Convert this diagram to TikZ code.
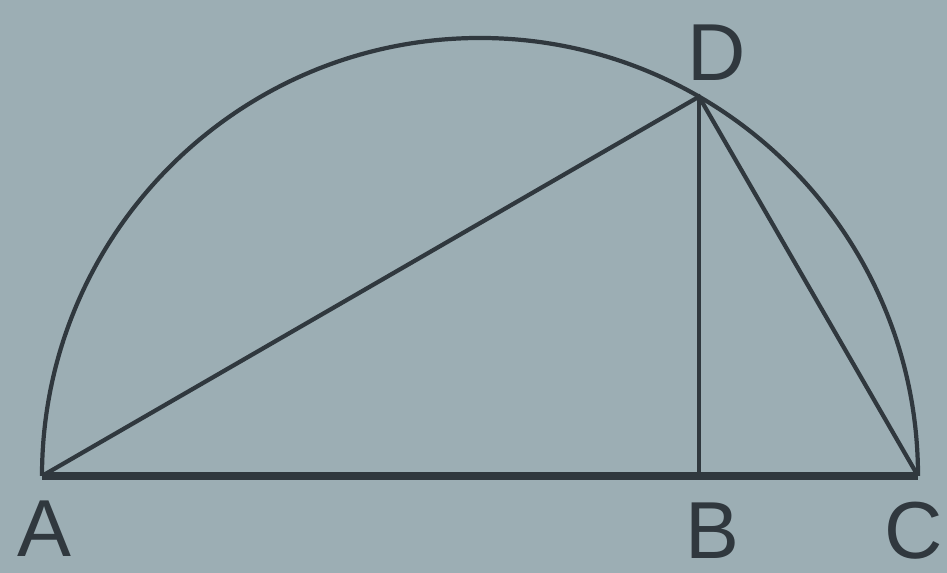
\documentclass[tikz,border=0pt]{standalone}
\usepackage{fontspec}
\setmainfont{Liberation Sans}
\usetikzlibrary{calc}
\definecolor{paper}{RGB}{156,174,180}
\definecolor{ink}{RGB}{48,56,62}

\begin{document}
\begin{tikzpicture}[
    seg/.style={draw=ink, line width=1.2pt},
    base/.style={draw=ink, line width=2.2pt},
    lbl/.style={text=ink, font=\fontsize{23}{23}\selectfont}
]

\fill[paper] (0,0) rectangle (9.47,5.73);
\useasboundingbox (0,0) rectangle (9.47,5.73);

% points on the semicircle
\coordinate (O) at (4.80,0.97);
\coordinate (A) at (0.42,0.97);
\coordinate (C) at (9.18,0.97);
\coordinate (D) at ($(O)+(60:4.38)$);
\coordinate (B) at (D |- O);

% arc and chords
\draw[seg] (C) arc (0:180:4.38);
\draw[base] (A) -- (C);
\draw[seg] (A) -- (D) -- (C);
\draw[seg] (D) -- (B);

% labels
\node[lbl] (la) at (0.44,0.44) {A};
\node[lbl] (lb) at (7.12,0.42) {B};
\node[lbl] (lc) at (9.14,0.42) {C};
\node[lbl] (ld) at (7.17,5.20) {D};

\end{tikzpicture}
\end{document}
